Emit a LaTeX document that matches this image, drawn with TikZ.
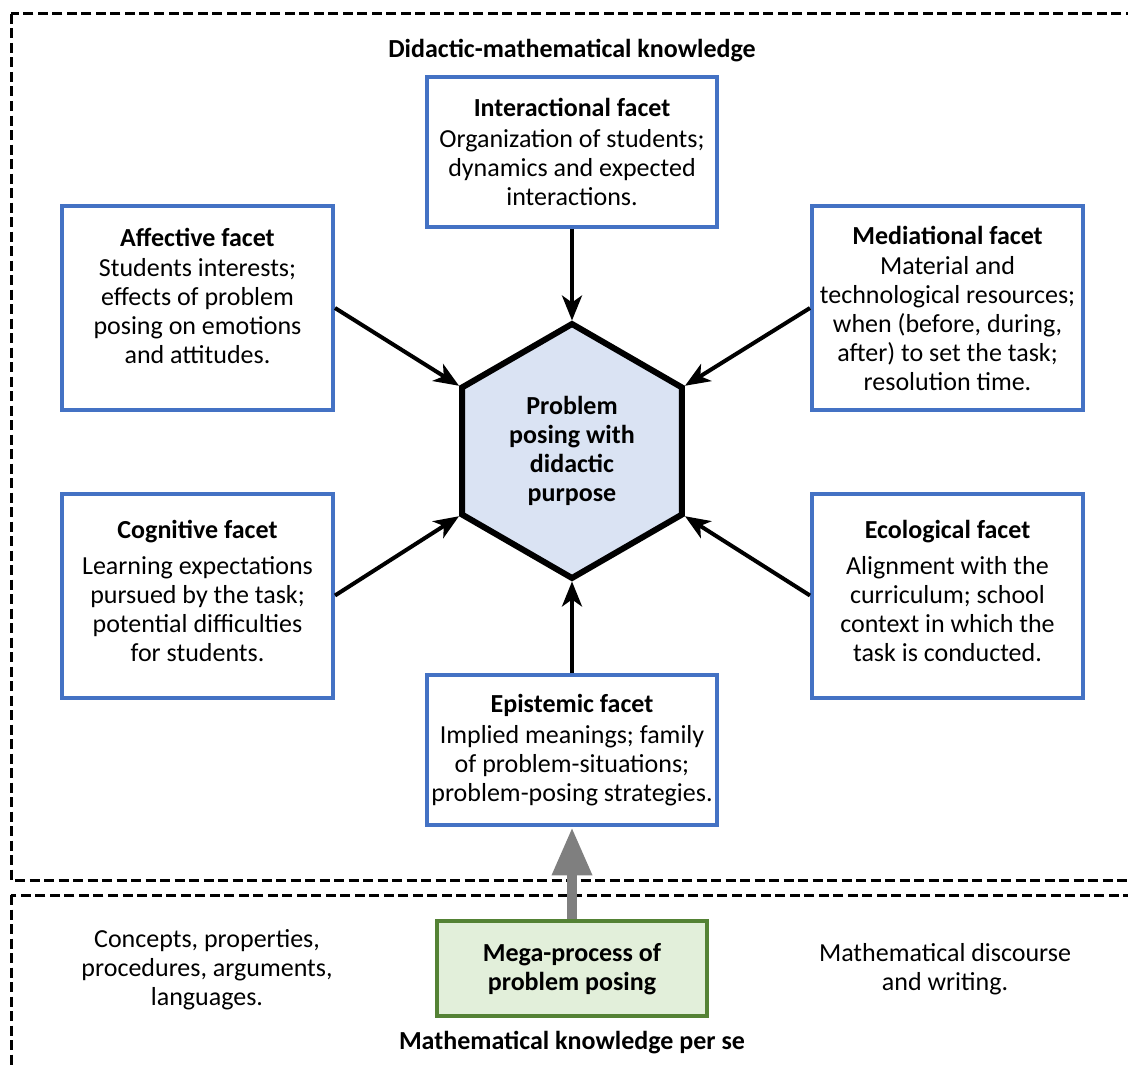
\documentclass[tikz,border=0pt]{standalone}
\usepackage{fontspec}
\setmainfont{Carlito}
\usetikzlibrary{shapes,arrows.meta,positioning}
\definecolor{facetblue}{HTML}{4472C4}
\definecolor{hexfill}{HTML}{DAE3F3}
\definecolor{megaline}{HTML}{548235}
\definecolor{megafill}{HTML}{E2EFDA}
\definecolor{liftgray}{HTML}{7F7F7F}
\tikzstyle{facet} = [rectangle, draw=facetblue, line width=4pt, fill=white,
	align=center, inner sep=0pt]
\tikzstyle{sidefacet} = [facet, minimum width=271pt, minimum height=204pt]
\tikzstyle{midfacet} = [facet, minimum width=290pt, minimum height=150pt]
\tikzstyle{hexa} = [regular polygon, regular polygon sides=6, shape border rotate=30,
	draw, line width=6pt, fill=hexfill, minimum size=254pt, inner sep=0pt,
	align=center, font=\fontsize{26}{29}\selectfont\bfseries]
\tikzstyle{megabox} = [rectangle, draw=megaline, fill=megafill, line width=4pt,
	minimum width=270pt, minimum height=95pt, align=center,
	font=\fontsize{26}{29}\selectfont\bfseries]
\tikzstyle{plaintext} = [align=center, inner sep=0pt]
\tikzstyle{knowframe} = [draw, line width=3pt, dash pattern=on 10pt off 4.5pt]
\tikzstyle{line} = [draw, line width=4pt, -{Stealth[length=25pt, width=20pt, inset=7pt]}]
\tikzstyle{lift} = [draw=liftgray, line width=10pt,
	-{Triangle[length=48pt, width=38pt]}]

\begin{document}
\begin{tikzpicture}[x=1pt, y=-1pt, font=\fontsize{26}{29}\selectfont]
	\useasboundingbox (0,0) rectangle (1128,1065);
	% Knowledge frames
	\draw [knowframe] (11,14) rectangle (1150,880);
	\draw [knowframe] (11,895) rectangle (1150,1100);
	% Place nodes
	\node [hexa] (purpose) at (572,451) {Problem\\posing with\\didactic\\purpose};
	\node [midfacet, above=92pt of purpose] (interactional)
		{\textbf{Interactional facet}\\[2pt]Organization of students;\\dynamics and expected\\interactions.};
	\node [midfacet, below=92pt of purpose] (epistemic)
		{\textbf{Epistemic facet}\\[2pt]Implied meanings; family\\of problem-situations;\\problem-posing strategies.};
	\node [sidefacet] (affective) at (197.5,308)
		{\textbf{Affective facet}\\[1pt]Students interests;\\effects of problem\\posing on emotions\\and attitudes.\\[-4pt]};
	\node [sidefacet] (mediational) at (947.5,308)
		{\textbf{Mediational facet}\\[1pt]Material and\\technological resources;\\when (before, during,\\after) to set the task;\\resolution time.};
	\node [sidefacet] (cognitive) at (197.5,595.5)
		{\textbf{Cognitive facet}\\[7pt]Learning expectations\\pursued by the task;\\potential difficulties\\for students.\\[-19pt]};
	\node [sidefacet] (ecological) at (947.5,595.5)
		{\textbf{Ecological facet}\\[7pt]Alignment with the\\curriculum; school\\context in which the\\task is conducted.\\[-19pt]};
	\node [megabox, below=92pt of epistemic] (mega) {Mega-process of\\problem posing};
	\node [plaintext, font=\fontsize{26}{29}\selectfont\bfseries] (didactic) at (572,51)
		{Didactic-mathematical knowledge};
	\node [plaintext, font=\fontsize{26}{29}\selectfont\bfseries] (perse) at (572,1043)
		{Mathematical knowledge per se};
	\node [plaintext] (concepts) at (207,970)
		{Concepts, properties,\\procedures, arguments,\\languages.};
	\node [plaintext] (discourse) at (945,969)
		{Mathematical discourse\\and writing.};
	% Draw edges
	\path [line] (interactional) -- (purpose.north);
	\path [line] (epistemic) -- (purpose.south);
	\path [line] (affective.east) -- (purpose.150);
	\path [line] (mediational.west) -- (purpose.30);
	\path [line] (cognitive.east) -- (purpose.210);
	\path [line] (ecological.west) -- (purpose.330);
	\path [lift] (mega) -- (epistemic);
\end{tikzpicture}
\end{document}
